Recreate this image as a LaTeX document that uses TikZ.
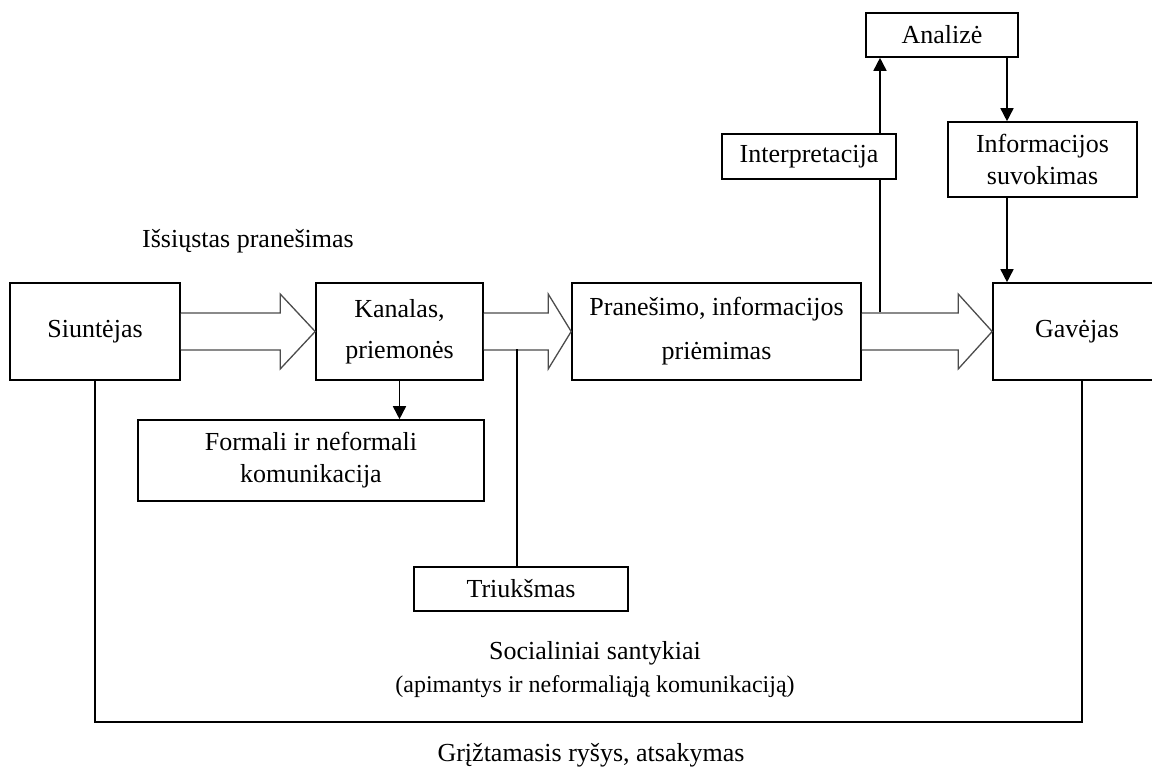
\documentclass[tikz,border=0pt]{standalone}
\usepackage{fontspec}
\setmainfont{Liberation Serif}
\usetikzlibrary{arrows.meta,calc}

% hollow block arrow between two boxes: #1 source, #2 target, #3 head length
\newcommand\blockarr[3]{%
  \draw[blockarrow]
    ($(#1.east)+(0,-18.5)$) -- ($(#2.west)+(-#3,-18.5)$) -- ($(#2.west)+(-#3,-37.5)$)
    -- (#2.west) -- ($(#2.west)+(-#3,37.5)$) -- ($(#2.west)+(-#3,18.5)$)
    -- ($(#1.east)+(0,18.5)$);}

\begin{document}
\begin{tikzpicture}[x=1pt,y=-1pt,
  every node/.style={font=\fontsize{26}{32}\selectfont, inner sep=0pt},
  box/.style={draw, line width=1.6pt, align=center, fill=white},
  blockarrow/.style={draw=black!70, line width=1.3pt, fill=white, line join=miter},
  link/.style={line width=1.6pt},
  tolink/.style={line width=1.6pt, -{Triangle[length=13pt,width=13pt]}},
  caption/.style={anchor=base}]
\useasboundingbox (0,0) rectangle (1152,768);

% main chain
\node[box, minimum width=170, minimum height=97] (s) at (95,331.5) {Siuntėjas};
\node[box, minimum width=167, minimum height=97] (k) at (399.5,331.5) {Kanalas,\\[9pt]priemonės};
\node[box, minimum width=289, minimum height=97] (p) at (716.5,331.5) {Pranešimo, informacijos\\[12pt]priėmimas};
\node[box, minimum width=168, minimum height=97] (g) at (1077,331.5) {Gavėjas};

% side boxes
\node[box, minimum width=152, minimum height=44] (a) at (942,35) {Analizė};
\node[box, minimum width=174, minimum height=45] (i) at (809,156.5) {Interpretacija};
\node[box, minimum width=189, minimum height=75] (inf) at (1042.5,159.5) {Informacijos\\suvokimas};
\node[box, minimum width=346, minimum height=81] (f) at (311,460.5) {Formali ir neformali\\komunikacija};
\node[box, minimum width=214, minimum height=44] (t) at (521,589) {Triukšmas};

% free captions
\node[caption] (c1) at (248,247) {Išsiųstas pranešimas};
\node[caption] (c2) at (595,659) {Socialiniai santykiai};
\node[caption, font=\fontsize{24}{28}\selectfont] (c3) at (595,692) {(apimantys ir neformaliąją komunikaciją)};
\node[caption] (c4) at (591,761) {Grįžtamasis ryšys, atsakymas};

% hollow flow arrows
\blockarr{s}{k}{35}
\blockarr{k}{p}{23}
\blockarr{p}{g}{34}

% branch points
\coordinate (tn) at (517,349);
\coordinate (ib) at (880,312);
\coordinate (ax) at (1007,0);
\coordinate (gx) at (1082,722);

% noise
\draw[link] (tn) -- (tn |- t.north);
% interpretation and analysis loop
\draw[link] (ib) -- (ib |- i.south);
\draw[tolink] (ib |- i.north) -- (ib |- a.south);
\draw[tolink] (ax |- a.south) -- (ax |- inf.north);
\draw[tolink] (ax |- inf.south) -- (ax |- g.north);
% channel types
\draw[tolink] (k.south) -- (k.south |- f.north);
% feedback
\draw[link] (s.south) -- (s.south |- gx) -- (gx) -- (gx |- g.south);
\end{tikzpicture}
\end{document}
